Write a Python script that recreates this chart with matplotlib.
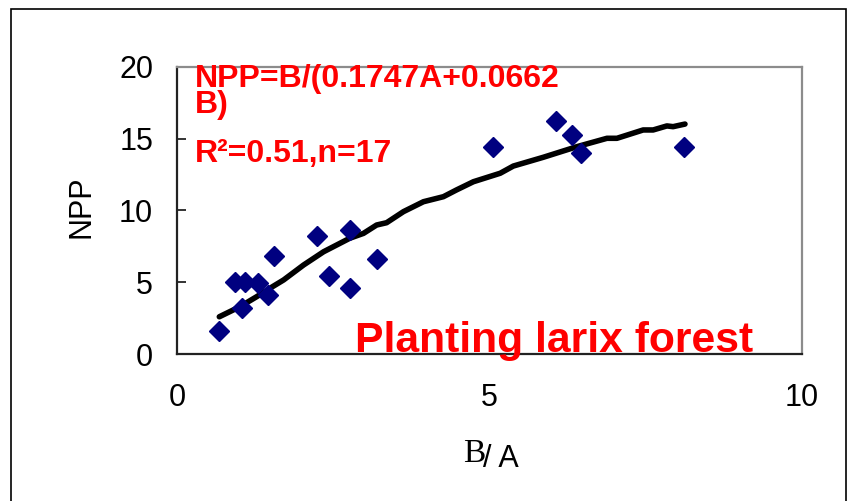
import matplotlib.pyplot as plt
from matplotlib.patches import Rectangle

# measured points (B/A vs NPP)
ratio_ba = [0.67, 0.92, 1.08, 1.03, 1.29, 1.45, 1.55, 2.23, 2.43, 2.76, 2.76, 3.20,
            5.05, 6.07, 6.32, 6.46, 8.11]
npp = [1.62, 5.05, 5.05, 3.20, 4.94, 4.12, 6.84, 8.23, 5.44, 8.64, 4.59, 6.61,
       14.39, 16.22, 15.25, 14.02, 14.39]

# fitted curve
fit_x = [0.67, 1.00, 1.27, 1.48, 1.70, 2.02, 2.34, 2.76, 2.98, 3.19, 3.35, 3.62,
         3.94, 4.26, 4.47, 4.74, 5.17, 5.38, 5.86, 6.40, 6.88, 7.04, 7.46, 7.62,
         7.84, 7.94, 8.13]
fit_y = [2.61, 3.31, 4.01, 4.59, 5.17, 6.21, 7.13, 8.07, 8.41, 8.99, 9.15, 9.92,
         10.61, 10.96, 11.43, 12.00, 12.59, 13.09, 13.70, 14.44, 15.02, 15.02, 15.60, 15.60,
         15.88, 15.83, 16.01]

x_ticks = [0, 5, 10]
y_ticks = [0, 5, 10, 15, 20]

plt.rcParams['font.family'] = ['Liberation Sans', 'DejaVu Sans']

fig = plt.figure(figsize=(8.5, 5.01), dpi=100)
ax = fig.add_axes([0.2088, 0.2928, 0.7344, 0.5741])

# outer frame around the whole chart
fig.patches.append(Rectangle((10.5 / 850, -0.05), (846 - 10.5) / 850, 1.05 - 9.5 / 501,
                             transform=fig.transFigure, fill=False, edgecolor='black',
                             linewidth=1.2))

ax.plot(fit_x, fit_y, color='black', linewidth=4, solid_capstyle='round', zorder=2)
ax.plot(ratio_ba, npp, linestyle='none', marker='D', markersize=10.3,
        color='#000080', zorder=3)

ax.set_xlim(0, 10)
ax.set_ylim(0, 20)
ax.set_xticks(x_ticks)
ax.set_yticks(y_ticks)
ax.tick_params(axis='y', direction='in', length=6.5, width=1.4, color='#333333',
               labelsize=22, pad=17.5)
ax.tick_params(axis='x', length=0, labelsize=22, pad=21)

for side in ['left', 'bottom']:
    ax.spines[side].set_color('#222222')
    ax.spines[side].set_linewidth(1.6)
for side in ['top', 'right']:
    ax.spines[side].set_color('#8c8c8c')
    ax.spines[side].set_linewidth(1.6)

# red annotations (equation wraps onto a second line, tight spacing)
ax.text(0.028, 0.839, 'NPP=B/(0.1747A+0.0662\nB)', transform=ax.transAxes, color='red',
        fontsize=23, fontweight='bold', va='baseline', ha='left', linespacing=0.82)
ax.text(0.028, 0.670, 'R\u00b2=0.51,n=17', transform=ax.transAxes, color='red',
        fontsize=23, fontweight='bold', va='baseline', ha='left')
ax.text(0.284, 0.009, 'Planting larix forest', transform=ax.transAxes, color='red',
        fontsize=30.7, fontweight='bold', va='baseline', ha='left')

# axis labels
fig.text(0.0953, 0.587, 'NPP', rotation=90, fontsize=22, ha='center', va='center')
fig.text(0.5444, 0.0784, 'B', family='Liberation Serif', fontsize=24, ha='left', va='baseline')
fig.text(0.5686, 0.0685, '/ A', fontsize=22, ha='left', va='baseline')

fig.savefig('out.png', dpi=100)
